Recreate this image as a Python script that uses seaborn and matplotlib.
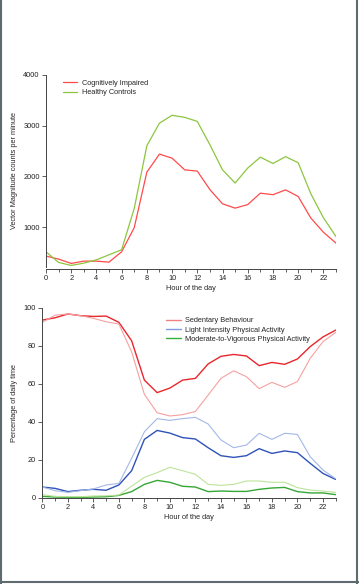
import matplotlib
matplotlib.use("Agg")
import matplotlib.pyplot as plt
from matplotlib.lines import Line2D
from matplotlib.ticker import MultipleLocator
import numpy as np
import pandas as pd
import seaborn as sns

hours = list(range(24))

# Panel A: vector magnitude counts per minute
vm_impaired = [430, 370, 285, 330, 330, 310, 515, 990, 2085, 2440, 2360, 2130, 2105, 1740,
               1460, 1375, 1445, 1670, 1640, 1735, 1605, 1180, 900, 685]
vm_controls = [515, 305, 245, 290, 355, 455, 555, 1370, 2605, 3050, 3205, 3165, 3085, 2625,
               2130, 1870, 2165, 2380, 2255, 2390, 2270, 1660, 1185, 815]

# Panel B: percentage of daily time (ci = cognitively impaired, hc = healthy controls)
sed_ci = [93.5, 94.7, 96.7, 95.8, 95.4, 95.6, 92.3, 82.6, 61.9, 55.3, 57.7, 61.9, 62.8, 70.4,
          74.4, 75.4, 74.6, 69.5, 71.2, 70.2, 73.0, 79.5, 84.6, 88.2]
sed_hc = [92.3, 96.1, 96.7, 95.8, 94.4, 92.6, 91.4, 76.8, 54.4, 44.7, 43.0, 43.7, 45.4, 54.0,
          62.8, 66.8, 63.7, 57.4, 60.7, 58.1, 61.1, 73.3, 82.1, 87.0]
lpa_ci = [5.6, 4.9, 3.2, 3.9, 4.4, 3.9, 6.7, 14.2, 30.7, 35.4, 34.0, 31.6, 30.9, 26.3,
          22.1, 21.2, 22.1, 25.8, 23.3, 24.6, 23.7, 18.1, 12.8, 9.6]
lpa_hc = [5.6, 3.7, 2.8, 3.7, 4.6, 6.7, 7.5, 20.7, 34.7, 41.6, 40.7, 41.6, 42.3, 38.8,
          30.4, 26.3, 27.7, 33.9, 30.7, 33.9, 33.3, 21.6, 14.6, 10.0]
mvpa_ci = [0.7, 0.35, 0.2, 0.2, 0.35, 0.5, 1.2, 3.2, 7.0, 9.1, 8.1, 6.0, 5.6, 3.2,
           3.5, 3.3, 3.3, 4.4, 5.1, 5.4, 3.2, 2.5, 2.5, 1.6]
mvpa_hc = [1.6, 0.7, 0.5, 0.5, 0.9, 1.0, 1.4, 6.1, 10.7, 13.2, 16.0, 14.2, 12.3, 7.0,
           6.5, 7.0, 8.8, 8.8, 8.1, 8.1, 5.3, 4.0, 3.5, 2.8]

sns.set_style("ticks")
plt.rcParams["font.family"] = ["Liberation Sans", "DejaVu Sans"]
plt.rcParams["font.size"] = 5.3
plt.rcParams["axes.edgecolor"] = "#444444"
plt.rcParams["xtick.color"] = "#444444"
plt.rcParams["ytick.color"] = "#444444"
plt.rcParams["xtick.labelcolor"] = "#222222"
plt.rcParams["ytick.labelcolor"] = "#222222"
plt.rcParams["axes.linewidth"] = 0.7

fig = plt.figure(figsize=(3.59, 5.84), dpi=100)
ax1 = fig.add_axes([0.128, 0.5433, 0.808, 0.3283])
ax2 = fig.add_axes([0.118, 0.1478, 0.817, 0.3253])

# top panel
df_vm = pd.DataFrame({"hour": hours * 2,
                      "vm": vm_impaired + vm_controls,
                      "group": ["Cognitively Impaired"] * 24 + ["Healthy Controls"] * 24})
sns.lineplot(data=df_vm, x="hour", y="vm", hue="group", ax=ax1, linewidth=0.9,
             palette={"Cognitively Impaired": "#ff4a4a", "Healthy Controls": "#8cc63f"})
ax1.set_xlim(0, 23)
ax1.set_ylim(220, 4000)
ax1.set_yticks([1000, 2000, 3000, 4000])
ax1.set_xlabel("Hour of the day", labelpad=2)
ax1.set_ylabel("Vector Magnitude counts per minute", labelpad=4)
ax1.spines[["top", "right"]].set_visible(False)
ax1.spines["bottom"].set_position(("outward", 1.5))
ax1.legend(loc="upper left", bbox_to_anchor=(0.035, 1.01), frameon=False,
           handlelength=2.0, handletextpad=0.6, labelspacing=0.3, fontsize=5.3)

# bottom panel
series = [
    ("Sedentary Behaviour", "CI", sed_ci), ("Sedentary Behaviour", "HC", sed_hc),
    ("Light Intensity Physical Activity", "CI", lpa_ci), ("Light Intensity Physical Activity", "HC", lpa_hc),
    ("Moderate-to-Vigorous Physical Activity", "CI", mvpa_ci), ("Moderate-to-Vigorous Physical Activity", "HC", mvpa_hc),
]
colors = {
    ("Sedentary Behaviour", "CI"): "#e8262c", ("Sedentary Behaviour", "HC"): "#f6a0a0",
    ("Light Intensity Physical Activity", "CI"): "#2f52b8", ("Light Intensity Physical Activity", "HC"): "#a3b8e8",
    ("Moderate-to-Vigorous Physical Activity", "CI"): "#36a636", ("Moderate-to-Vigorous Physical Activity", "HC"): "#bde39a",
}
for name, grp, vals in series:
    d = pd.DataFrame({"hour": hours, "pct": vals})
    sns.lineplot(data=d, x="hour", y="pct", ax=ax2, color=colors[(name, grp)],
                 linewidth=1.0 if grp == "CI" else 0.8)
ax2.set_xlim(0, 23)
ax2.set_ylim(0, 100)
ax2.set_yticks([0, 20, 40, 60, 80, 100])
ax2.set_xlabel("Hour of the day", labelpad=2)
ax2.set_ylabel("Percentage of daily time", labelpad=4)
ax2.spines[["top", "right"]].set_visible(False)
handles = [Line2D([], [], color="#f08080", lw=1.0),
           Line2D([], [], color="#7f9be0", lw=1.0),
           Line2D([], [], color="#38b038", lw=1.0)]
ax2.legend(handles, ["Sedentary Behaviour", "Light Intensity Physical Activity",
                     "Moderate-to-Vigorous Physical Activity"],
           loc="upper left", bbox_to_anchor=(0.40, 0.985), frameon=False,
           handlelength=2.0, handletextpad=0.5, labelspacing=0.3, fontsize=5.3)

for ax in (ax1, ax2):
    ax.xaxis.set_major_locator(MultipleLocator(2))
    ax.xaxis.set_minor_locator(MultipleLocator(1))
    ax.tick_params(axis="both", which="major", length=3, width=0.6, pad=1.5, labelsize=5.3)
    ax.tick_params(axis="x", which="minor", length=2, width=0.6)

# frame around the figure (left, right, bottom)
for xs, ys in [([0.002, 0.002], [0, 1]), ([0.9958, 0.9958], [0, 1]), ([0, 1], [0.0026, 0.0026])]:
    fig.add_artist(Line2D(xs, ys, transform=fig.transFigure, color="#5d6a70", lw=1.5))

fig.savefig("out.png", dpi=100)
